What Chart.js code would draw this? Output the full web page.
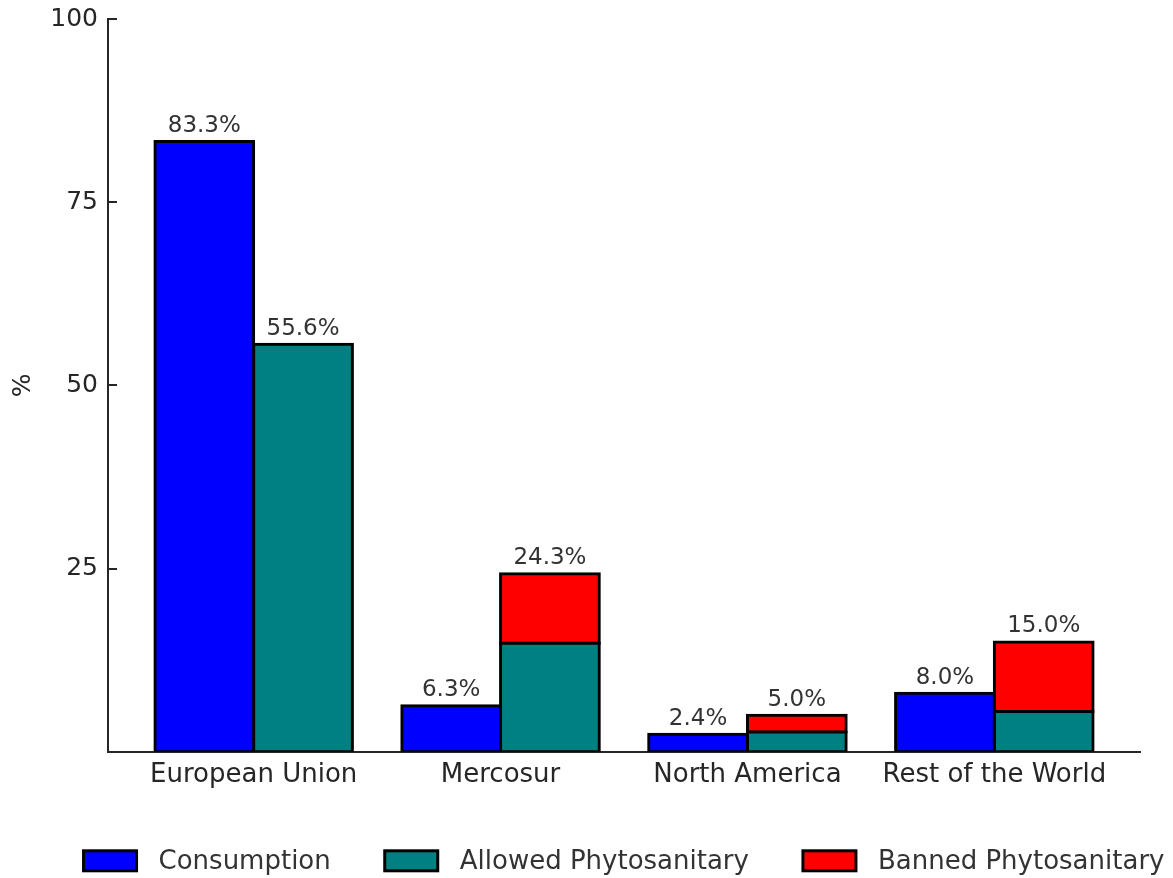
<!DOCTYPE html>
<html>
<head>
<meta charset="utf-8">
<script src="https://cdn.jsdelivr.net/npm/chart.js@4"></script>
<style>
  html, body { margin: 0; padding: 0; background: #ffffff; }
  #wrap { width: 1173px; height: 878px; }
</style>
</head>
<body>
<div id="wrap"><canvas id="c" width="1173" height="878"></canvas></div>
<script>
const categories = ['European Union', 'Mercosur', 'North America', 'Rest of the World'];
const consumption = [83.3, 6.3, 2.4, 8.0];
const allowed = [55.6, 14.8, 2.7, 5.5];
const banned = [0, 9.5, 2.3, 9.5];
const yTicks = [0, 25, 50, 75, 100];
const seriesNames = ['Consumption', 'Allowed Phytosanitary', 'Banned Phytosanitary'];

const FONT = 'DejaVu Sans';
const toPoints = arr => arr.map((v, i) => ({ x: i, y: v }));

const barLabels = {
  id: 'barLabels',
  afterDatasetsDraw(chart) {
    const ctx = chart.ctx;
    const y = chart.scales.y;
    const metaC = chart.getDatasetMeta(0);
    const metaA = chart.getDatasetMeta(1);
    ctx.save();
    ctx.font = '23px "' + FONT + '"';
    ctx.fillStyle = '#333333';
    ctx.textAlign = 'center';
    ctx.textBaseline = 'bottom';
    categories.forEach((_, i) => {
      const bc = metaC.data[i];
      ctx.fillText(consumption[i].toFixed(1) + '%', bc.x, y.getPixelForValue(consumption[i]) - 4);
      const total = allowed[i] + banned[i];
      const ba = metaA.data[i];
      ctx.fillText(total.toFixed(1) + '%', ba.x, y.getPixelForValue(total) - 4);
    });
    ctx.restore();
  }
};

const yTickMarks = {
  id: 'yTickMarks',
  afterDraw(chart) {
    const ctx = chart.ctx;
    const y = chart.scales.y;
    const left = chart.chartArea.left;
    ctx.save();
    ctx.strokeStyle = '#262626';
    ctx.lineWidth = 2;
    yTicks.forEach(v => {
      if (v === 0) return;
      const py = Math.round(y.getPixelForValue(v));
      ctx.beginPath();
      ctx.moveTo(left, py);
      ctx.lineTo(left + 9, py);
      ctx.stroke();
    });
    ctx.restore();
  }
};

const customLegend = {
  id: 'customLegend',
  afterDraw(chart) {
    const ctx = chart.ctx;
    const area = chart.chartArea;
    const boxW = 53, boxH = 20, gapText = 22, gapItem = 54;
    ctx.save();
    ctx.font = '26px "' + FONT + '"';
    const widths = chart.data.datasets.map(ds => ctx.measureText(ds.label).width);
    const total = widths.reduce((a, w) => a + boxW + gapText + w, 0) + gapItem * (widths.length - 1);
    let x = (area.left + area.right) / 2 - total / 2;
    const cy = area.bottom + 109;
    chart.data.datasets.forEach((ds, i) => {
      ctx.fillStyle = ds.backgroundColor;
      ctx.fillRect(x, cy - boxH / 2, boxW, boxH);
      ctx.strokeStyle = '#000000';
      ctx.lineWidth = 3;
      ctx.strokeRect(x, cy - boxH / 2, boxW, boxH);
      ctx.fillStyle = '#333333';
      ctx.textAlign = 'left';
      ctx.textBaseline = 'middle';
      ctx.fillText(ds.label, x + boxW + gapText, cy + 1);
      x += boxW + gapText + widths[i] + gapItem;
    });
    ctx.restore();
  }
};

const barStyle = { borderColor: '#000000', borderWidth: 3, borderSkipped: false, inflateAmount: 1.5 };

new Chart(document.getElementById('c'), {
  type: 'bar',
  data: {
    datasets: [
      Object.assign({ label: seriesNames[0], data: toPoints(consumption), stack: 'a', backgroundColor: '#0000ff' }, barStyle),
      Object.assign({ label: seriesNames[1], data: toPoints(allowed), stack: 'b', backgroundColor: '#008080' }, barStyle),
      Object.assign({ label: seriesNames[2], data: toPoints(banned), stack: 'b', backgroundColor: '#ff0000' }, barStyle)
    ]
  },
  options: {
    responsive: false,
    animation: false,
    categoryPercentage: 0.8,
    barPercentage: 1.0,
    layout: { padding: { top: 19, right: 33, bottom: 79, left: 0 } },
    plugins: {
      legend: { display: false },
      tooltip: { enabled: false }
    },
    scales: {
      x: {
        type: 'linear',
        min: -0.59,
        max: 3.59,
        offset: false,
        grid: { display: false, offset: false, drawTicks: false },
        border: { display: true, color: '#262626', width: 2 },
        afterBuildTicks(scale) { scale.ticks = categories.map((_, i) => ({ value: i })); },
        ticks: {
          autoSkip: false,
          maxRotation: 0,
          padding: 8,
          color: '#262626',
          font: { family: FONT, size: 26 },
          callback: (v) => categories[v]
        }
      },
      y: {
        min: 0,
        max: 100,
        afterFit(scale) { scale.width = 108; scale.paddingTop = 0; },
        afterBuildTicks(scale) { scale.ticks = yTicks.map(v => ({ value: v })); },
        grid: { display: false, drawTicks: false },
        border: { display: true, color: '#262626', width: 2 },
        ticks: {
          padding: 10,
          color: '#262626',
          font: { family: FONT, size: 25 },
          callback: (v) => (v === 0 ? '' : String(v))
        },
        title: {
          display: true,
          text: '%',
          color: '#262626',
          font: { family: FONT, size: 25 },
          padding: { top: 8, bottom: 0 }
        }
      }
    }
  },
  plugins: [barLabels, yTickMarks, customLegend]
});
</script>
</body>
</html>
